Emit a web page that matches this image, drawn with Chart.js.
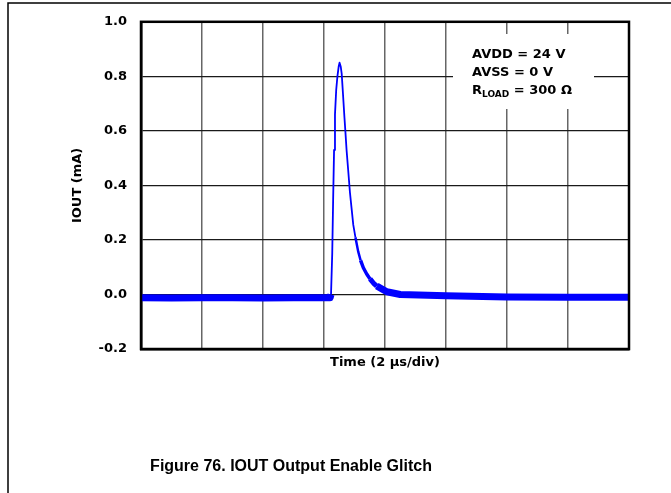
<!DOCTYPE html>
<html><head><meta charset="utf-8">
<script src="https://cdn.jsdelivr.net/npm/chart.js@4/dist/chart.umd.min.js"></script>
<style>html,body{margin:0;padding:0;background:#fff;}canvas{display:block;}</style>
</head><body>
<canvas id="c" width="671" height="493"></canvas>
<script>
// Time axis (µs); 8 divisions of 2 µs
const timeUs = [0, 1.0, 2.0, 3.0, 4.0, 5.0, 6.0, 6.2, 6.23, 6.27, 6.30, 6.33, 6.36, 6.40, 6.44, 6.48, 6.51, 6.55, 6.58, 6.62, 6.67, 6.70, 6.74, 6.79, 6.85, 6.90, 6.96, 7.03, 7.12, 7.20, 7.29, 7.40, 7.51, 7.62, 7.73, 7.90, 8.06, 8.5, 10.0, 12.0, 14.0, 16.0];
// IOUT (mA)
const ioutMA = [-0.012, -0.013, -0.012, -0.012, -0.013, -0.012, -0.012, -0.012, 0.0, 0.15, 0.35, 0.53, 0.66, 0.75, 0.80, 0.835, 0.85, 0.835, 0.81, 0.74, 0.65, 0.60, 0.53, 0.46, 0.375, 0.32, 0.255, 0.21, 0.158, 0.125, 0.098, 0.075, 0.057, 0.042, 0.031, 0.02, 0.010, 0.0, -0.005, -0.009, -0.010, -0.010];
const xGridTicks = [0, 2, 4, 6, 8, 10, 12, 14, 16];
const yTickValues = [-0.2, 0.0, 0.2, 0.4, 0.6, 0.8, 1.0];
const xTitle = 'Time (2 µs/div)';
const yTitle = 'IOUT (mA)';
const caption = 'Figure 76. IOUT Output Enable Glitch';
const annotation = [['AVDD = 24 V'], ['AVSS = 0 V'], ['R', 'LOAD', ' = 300 Ω']];

const chartFont = 'DejaVu Sans';

const extras = {
  id: 'extras',
  beforeDatasetsDraw(chart) {
    const ctx = chart.ctx;
    ctx.save();
    // annotation box
    ctx.fillStyle = '#fff';
    ctx.fillRect(453, 34, 141, 75);
    ctx.fillStyle = '#000';
    ctx.font = 'bold 13px "' + chartFont + '"';
    ctx.textBaseline = 'middle';
    ctx.textAlign = 'left';
    const ys = [55, 73, 91];
    annotation.forEach((parts, i) => {
      let px = 472;
      if (parts.length === 1) {
        ctx.fillText(parts[0], px, ys[i]);
      } else {
        ctx.font = 'bold 13px "' + chartFont + '"';
        ctx.fillText(parts[0], px, ys[i]);
        px += ctx.measureText(parts[0]).width;
        ctx.font = 'bold 9px "' + chartFont + '"';
        ctx.fillText(parts[1], px, ys[i] + 4);
        px += ctx.measureText(parts[1]).width;
        ctx.font = 'bold 13px "' + chartFont + '"';
        ctx.fillText(parts[2], px, ys[i]);
      }
    });
    ctx.restore();
  },
  afterDraw(chart) {
    const ctx = chart.ctx;
    const a = chart.chartArea;
    ctx.save();
    ctx.strokeStyle = '#000';
    ctx.lineWidth = 2.5;
    ctx.strokeRect(a.left, a.top, a.right - a.left, a.bottom - a.top);
    // page frame
    ctx.lineWidth = 1.5;
    ctx.beginPath();
    ctx.moveTo(8, 493); ctx.lineTo(8, 3); ctx.lineTo(671, 3);
    ctx.stroke();
    // caption
    ctx.fillStyle = '#000';
    ctx.font = 'bold 16px "Liberation Sans"';
    ctx.textAlign = 'center';
    ctx.textBaseline = 'middle';
    ctx.fillText(caption, 291, 467);
    ctx.restore();
  }
};

new Chart(document.getElementById('c'), {
  type: 'line',
  data: {
    labels: timeUs,
    datasets: [{
      data: timeUs.map((t, i) => ({x: t, y: ioutMA[i]})),
      borderColor: '#0000ff',
      borderWidth: 1.8,
      pointRadius: 0,
      tension: 0,
      borderJoinStyle: 'round',
      borderCapStyle: 'butt',
      segment: {
        borderWidth: c => {
          const y0 = c.p0.parsed.y, y1 = c.p1.parsed.y;
          if (y1 - y0 > 0.05) return 1.8;      // rising edge stays thin
          const m = Math.min(y0, y1);
          if (m > 0.2) return 1.8;
          if (m > 0.1) return 2.5;
          if (m > 0.05) return 3.5;
          if (m > 0.025) return 5;
          return 7;
        }
      }
    }]
  },
  options: {
    responsive: false,
    animation: false,
    layout: {padding: {left: 0, top: 17, right: 42, bottom: 0}},
    plugins: {legend: {display: false}, tooltip: {enabled: false}, title: {display: false}},
    scales: {
      x: {
        type: 'linear', min: 0, max: 16,
        afterBuildTicks: s => { s.ticks = xGridTicks.map(v => ({value: v})); },
        afterFit: s => { s.height = 144; },
        ticks: {display: false},
        grid: {color: '#666', lineWidth: 1.5, drawTicks: false},
        border: {display: true, color: '#000', width: 2.5},
        title: {display: true, text: xTitle, color: '#000',
          font: {family: chartFont, size: 13, weight: 'bold'}, padding: {top: 0, bottom: 123}}
      },
      y: {
        min: -0.2, max: 1.0,
        afterBuildTicks: s => { s.ticks = yTickValues.map(v => ({value: v})); },
        afterFit: s => { s.width = 141; },
        ticks: {color: '#000', padding: 14, font: {family: chartFont, size: 13, weight: 'bold'},
          callback: v => (Math.abs(v) < 1e-9 ? 0 : v).toFixed(1)},
        grid: {color: '#1a1a1a', lineWidth: 1.3, drawTicks: false},
        border: {display: true, color: '#000', width: 2.5},
        title: {display: true, text: yTitle, color: '#000',
          font: {family: chartFont, size: 13, weight: 'bold'}, padding: {top: 70, bottom: 0}}
      }
    }
  },
  plugins: [extras]
});
</script>
</body></html>
